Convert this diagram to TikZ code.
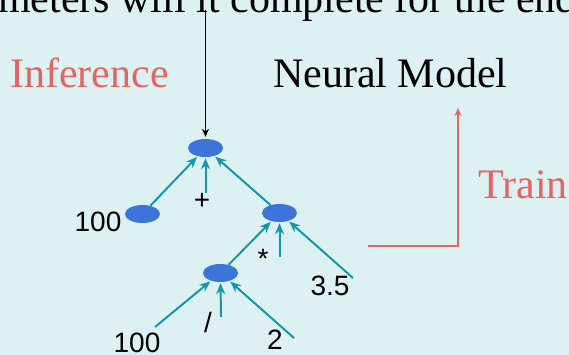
\documentclass[tikz,border=0pt]{standalone}
\usepackage{xcolor}
\usepackage{fontspec}
\setmainfont{Liberation Serif}
\setsansfont{Liberation Sans}
\usetikzlibrary{arrows.meta,positioning,shapes.geometric,calc}
\definecolor{slidebg}{HTML}{DDF0F2}
\definecolor{astblue}{HTML}{3D74D9}
\definecolor{astteal}{HTML}{1199A8}
\definecolor{softred}{HTML}{E06666}

\begin{document}
\begin{tikzpicture}[
  x=1pt, y=-1pt,
  astnode/.style={ellipse, fill=astblue, minimum width=35pt, minimum height=18pt, inner sep=0pt},
  token/.style={font=\fontsize{28}{30}\sffamily, inner sep=0pt},
  title/.style={font=\fontsize{42}{46}\selectfont, inner sep=0pt, anchor=base west},
  edge/.style={-{Stealth[length=11pt, width=9pt]}, astteal, line width=2pt, shorten >=1pt},
  flow/.style={-{Stealth[length=8pt, width=7pt]}, line width=1.6pt}
]
\fill[slidebg] (0,0) rectangle (569,355);
\useasboundingbox (0,0) rectangle (569,355);
\clip (0,0) rectangle (569,355);
% cut-off sentence at the top
\node[title] (caption) at (-2,13) {meters will it complete for the end};
\node[title, text=softred] (infer) at (10,88) {Inference};
\node[title] (model) at (273,88) {Neural Model};
\node[title, text=softred] (train) at (478,198) {Train};
% the expression tree
\node[astnode] (plus) at (205.5,148) {};
\node[astnode] (leaf) at (142.5,214) {};
\node[astnode] (times) at (279.5,213) {};
\node[astnode] (div) at (220.5,273) {};
\node[token] (numa) at (98,222) {100};
\node[token] (plustok) at (202,201) {+};
\node[token] (startok) at (263,259) {*};
\node[token] (numc) at (330,286) {3.5};
\node[token] (slashtok) at (208,322) {/};
\node[token] (numb) at (137,343) {100};
\node[token] (numd) at (275,340) {2};
\coordinate (plusin) at (205.5,193);
\coordinate (starin) at (279.5,257);
\coordinate (threein) at (353,278);
\coordinate (hundin) at (155,327);
\coordinate (slashin) at (221,317);
\coordinate (twoin) at (294,338);
\draw[edge] (leaf) -- (plus);
\draw[edge] (plusin) -- (plus.south);
\draw[edge] (times) -- (plus);
\draw[edge] (div) -- (times);
\draw[edge] (starin) -- (times.south);
\draw[edge] (threein) -- (times);
\draw[edge] (hundin) -- (div);
\draw[edge] (slashin) -- (div.south);
\draw[edge] (twoin) -- (div);
% inference and training flows
\coordinate (inferin) at (205.5,10);
\coordinate (trainin) at (368,246);
\coordinate (trainout) at (458,108);
\draw[flow, black, shorten >=2pt] (inferin) -- (plus.north);
\draw[flow, softred, line width=1.4pt] (trainin) -| (trainout);
\end{tikzpicture}
\end{document}
